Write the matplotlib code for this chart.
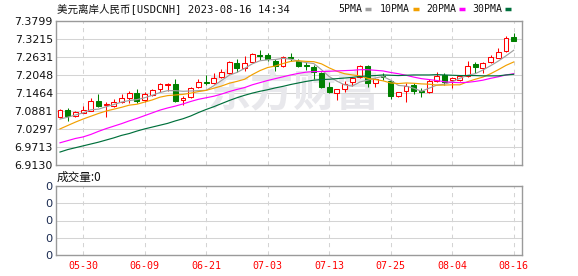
import matplotlib
matplotlib.use('Agg')
import matplotlib.pyplot as plt
import numpy as np

# ---------------- data ----------------
dates = ['05-25', '05-26', '05-29', '05-30', '05-31', '06-01', '06-02', '06-05', '06-06', '06-07',
         '06-08', '06-09', '06-12', '06-13', '06-14', '06-15', '06-16', '06-19', '06-20', '06-21',
         '06-22', '06-23', '06-26', '06-27', '06-28', '06-29', '06-30', '07-03', '07-04', '07-05',
         '07-06', '07-07', '07-10', '07-11', '07-12', '07-13', '07-14', '07-17', '07-18', '07-19',
         '07-20', '07-21', '07-24', '07-25', '07-26', '07-27', '07-28', '07-31', '08-01', '08-02',
         '08-03', '08-04', '08-07', '08-08', '08-09', '08-10', '08-11', '08-14', '08-15', '08-16']

opens = [7.068, 7.091, 7.072, 7.083, 7.089, 7.122, 7.107, 7.104, 7.117, 7.131,
         7.146, 7.124, 7.141, 7.158, 7.172, 7.175, 7.124, 7.133, 7.167, 7.182,
         7.180, 7.197, 7.210, 7.245, 7.227, 7.248, 7.270, 7.270, 7.250, 7.234,
         7.264, 7.250, 7.237, 7.230, 7.210, 7.165, 7.145, 7.159, 7.181, 7.199,
         7.234, 7.178, 7.203, 7.185, 7.138, 7.154, 7.172, 7.154, 7.149, 7.185,
         7.205, 7.189, 7.189, 7.203, 7.240, 7.227, 7.246, 7.261, 7.283, 7.327]
closes = [7.091, 7.072, 7.084, 7.091, 7.120, 7.105, 7.112, 7.117, 7.129, 7.147,
          7.122, 7.142, 7.156, 7.175, 7.176, 7.122, 7.129, 7.162, 7.183, 7.179,
          7.196, 7.216, 7.246, 7.229, 7.243, 7.273, 7.266, 7.257, 7.234, 7.264,
          7.259, 7.235, 7.234, 7.216, 7.167, 7.150, 7.158, 7.175, 7.194, 7.234,
          7.180, 7.191, 7.199, 7.138, 7.149, 7.170, 7.153, 7.151, 7.185, 7.203,
          7.183, 7.194, 7.203, 7.235, 7.230, 7.243, 7.262, 7.278, 7.324, 7.316]
highs = [7.093, 7.097, 7.088, 7.104, 7.131, 7.142, 7.116, 7.126, 7.142, 7.154,
         7.158, 7.149, 7.158, 7.180, 7.179, 7.191, 7.137, 7.167, 7.191, 7.206,
         7.210, 7.223, 7.249, 7.257, 7.267, 7.275, 7.286, 7.275, 7.257, 7.267,
         7.275, 7.257, 7.248, 7.237, 7.216, 7.183, 7.160, 7.185, 7.196, 7.237,
         7.237, 7.194, 7.210, 7.188, 7.149, 7.178, 7.178, 7.162, 7.192, 7.216,
         7.210, 7.199, 7.205, 7.250, 7.246, 7.246, 7.270, 7.291, 7.332, 7.340]
lows = [7.066, 7.057, 7.070, 7.080, 7.087, 7.102, 7.068, 7.102, 7.113, 7.115,
        7.115, 7.118, 7.138, 7.150, 7.154, 7.116, 7.109, 7.129, 7.162, 7.174,
        7.175, 7.194, 7.207, 7.216, 7.218, 7.246, 7.254, 7.251, 7.219, 7.230,
        7.250, 7.230, 7.221, 7.191, 7.162, 7.145, 7.124, 7.150, 7.170, 7.194,
        7.167, 7.167, 7.188, 7.127, 7.134, 7.118, 7.142, 7.134, 7.145, 7.183,
        7.172, 7.162, 7.186, 7.199, 7.210, 7.210, 7.243, 7.259, 7.280, 7.315]

ma5 = [7.062, 7.068, 7.075, 7.082, 7.092, 7.094, 7.102, 7.109, 7.117, 7.122,
       7.125, 7.131, 7.139, 7.148, 7.154, 7.154, 7.152, 7.153, 7.154, 7.155,
       7.170, 7.187, 7.204, 7.213, 7.226, 7.241, 7.251, 7.254, 7.255, 7.259,
       7.256, 7.250, 7.245, 7.242, 7.222, 7.200, 7.185, 7.173, 7.169, 7.182,
       7.188, 7.195, 7.200, 7.188, 7.171, 7.169, 7.162, 7.152, 7.162, 7.172,
       7.175, 7.183, 7.194, 7.204, 7.209, 7.221, 7.235, 7.250, 7.267, 7.285]
ma10 = [7.030, 7.041, 7.052, 7.062, 7.071, 7.080, 7.088, 7.094, 7.100, 7.107,
        7.110, 7.117, 7.124, 7.133, 7.138, 7.140, 7.142, 7.146, 7.151, 7.155,
        7.162, 7.169, 7.178, 7.184, 7.191, 7.206, 7.219, 7.229, 7.234, 7.242,
        7.249, 7.251, 7.249, 7.248, 7.241, 7.228, 7.217, 7.209, 7.205, 7.202,
        7.194, 7.190, 7.186, 7.179, 7.177, 7.179, 7.178, 7.176, 7.175, 7.172,
        7.172, 7.173, 7.173, 7.183, 7.191, 7.198, 7.209, 7.222, 7.236, 7.247]
ma20 = [6.985, 6.992, 6.999, 7.004, 7.012, 7.022, 7.031, 7.039, 7.047, 7.056,
        7.064, 7.073, 7.082, 7.091, 7.098, 7.104, 7.111, 7.119, 7.126, 7.131,
        7.136, 7.143, 7.151, 7.158, 7.164, 7.173, 7.180, 7.187, 7.193, 7.199,
        7.205, 7.210, 7.214, 7.216, 7.216, 7.217, 7.218, 7.219, 7.220, 7.222,
        7.222, 7.220, 7.218, 7.213, 7.209, 7.204, 7.198, 7.193, 7.190, 7.187,
        7.183, 7.181, 7.180, 7.181, 7.184, 7.188, 7.194, 7.199, 7.205, 7.209]
ma30 = [6.955, 6.963, 6.969, 6.975, 6.981, 6.987, 6.994, 7.001, 7.009, 7.015,
        7.023, 7.030, 7.036, 7.042, 7.048, 7.056, 7.063, 7.072, 7.083, 7.093,
        7.102, 7.112, 7.122, 7.131, 7.139, 7.146, 7.152, 7.157, 7.163, 7.168,
        7.174, 7.179, 7.184, 7.188, 7.190, 7.191, 7.193, 7.195, 7.197, 7.200,
        7.202, 7.203, 7.205, 7.204, 7.203, 7.204, 7.205, 7.205, 7.205, 7.206,
        7.205, 7.204, 7.203, 7.203, 7.203, 7.202, 7.202, 7.202, 7.205, 7.207]

volumes = [0] * 60

y_ticks = [6.9130, 6.9713, 7.0297, 7.0881, 7.1464, 7.2048, 7.2631, 7.3215, 7.3799]
y_tick_labels = ['6.9130', '6.9713', '7.0297', '7.0881', '7.1464', '7.2048', '7.2631', '7.3215', '7.3799']
x_tick_labels = ['05-30', '06-09', '06-21', '07-03', '07-13', '07-25', '08-04', '08-16']
vol_ticks = [0, 1, 2, 3, 4]
vol_tick_labels = ['0', '0', '0', '0', '0']

title = '美元离岸人民币[USDCNH] 2023-08-16 14:34'
vol_title = '成交量:0'
ma_names = ['5PMA', '10PMA', '20PMA', '30PMA']

# ---------------- style ----------------
RED = '#FF0000'
GREEN = '#008000'
MA_COLORS = ['#A0A0A0', '#F2A000', '#FF00FF', '#00703C']
GRID = '#D4D4D4'
SPINE = '#9A9A9A'
LW = 0.75

W, H = 578, 276
fig = plt.figure(figsize=(W / 100, H / 100), dpi=100)
fig.patch.set_facecolor('white')


def px_axes(l, t, r, b):
    return fig.add_axes([l / W, 1 - b / H, (r - l) / W, (b - t) / H])


def px_text(x, y, s, **kw):
    return fig.text(x / W, 1 - y / H, s, **kw)


ax = px_axes(56, 21, 522, 165)
axv = px_axes(56, 186, 522, 255)

n = len(closes)
x = np.arange(n)
o = np.array(opens); c = np.array(closes); hi = np.array(highs); lo = np.array(lows)
up = c >= o
edge = np.where(up, RED, GREEN)
face = np.where(up, 'white', GREEN)

ax.vlines(x, lo, hi, colors=edge, linewidth=LW, zorder=3)
body_bottom = np.minimum(o, c)
body_h = np.maximum(np.abs(c - o), 0.0012)
ax.bar(x, body_h, width=0.64, bottom=body_bottom, color=face, edgecolor=edge,
       linewidth=LW, zorder=4)

for vals, col in zip([ma5, ma10, ma20, ma30], MA_COLORS):
    ax.plot(x, vals, color=col, linewidth=0.85, zorder=5)

xlim = (-0.52, 60.08)
tick_idx = [dates.index(d) for d in x_tick_labels]

ax.set_xlim(*xlim)
ax.set_ylim(y_ticks[0], y_ticks[-1])
ax.set_yticks(y_ticks)
ax.set_yticklabels(y_tick_labels, fontsize=7.9, family='DejaVu Sans', color='#111111')
ax.set_xticks(tick_idx)
ax.tick_params(axis='both', length=0)
ax.tick_params(axis='y', pad=2.2)
ax.tick_params(axis='x', labelbottom=False)
ax.yaxis.grid(True, color=GRID, linewidth=LW)
ax.xaxis.grid(True, color=GRID, linewidth=LW, linestyle=(0, (4, 4)))
ax.set_axisbelow(True)
for s in ax.spines.values():
    s.set_color(SPINE)
    s.set_linewidth(1)

# watermark
ax.text(0.51, 0.5, '东方财富', transform=ax.transAxes, ha='center', va='center',
        fontsize=31, fontweight='bold', color='#E8E8EC', family='Noto Sans CJK SC',
        zorder=1)

# volume panel
axv.bar(x, volumes, width=0.64, color=GREEN)
axv.set_xlim(*xlim)
axv.set_ylim(vol_ticks[0], vol_ticks[-1])
axv.set_yticks(vol_ticks)
axv.set_yticklabels(vol_tick_labels, fontsize=8.2, family='DejaVu Sans', color='#1A2A50')
axv.set_xticks(tick_idx)
axv.set_xticklabels(x_tick_labels, fontsize=7.2, family='DejaVu Sans Mono', color=RED)
axv.tick_params(axis='both', length=0)
axv.tick_params(axis='y', pad=2.5)
axv.tick_params(axis='x', pad=4.5)
axv.yaxis.grid(True, color=GRID, linewidth=LW)
axv.xaxis.grid(True, color=GRID, linewidth=LW, linestyle=(0, (4, 4)))
axv.set_axisbelow(True)
for s in axv.spines.values():
    s.set_color(SPINE)
    s.set_linewidth(1)

# header texts
px_text(57, 9, title, fontsize=7.6, family=['DejaVu Sans Mono', 'Noto Sans CJK SC'],
        color='#111111', va='center', ha='left')
px_text(57, 177, vol_title, fontsize=8.4, family=['Noto Sans CJK SC', 'DejaVu Sans'],
        color='#111111', va='center', ha='left')

legend_text_x = [338, 380, 426, 472]
legend_mark_x = [365, 413, 459, 505]
for name, col, tx, mx in zip(ma_names, MA_COLORS, legend_text_x, legend_mark_x):
    px_text(tx, 9, name, fontsize=7.1, family='DejaVu Sans Mono', color='#111111',
            va='center', ha='left')
    fig.add_artist(plt.Line2D([mx / W, (mx + 6) / W], [1 - 9 / H, 1 - 9 / H],
                              color=col, linewidth=2.5, solid_capstyle='butt'))

fig.savefig('out.png', dpi=100, facecolor='white')
